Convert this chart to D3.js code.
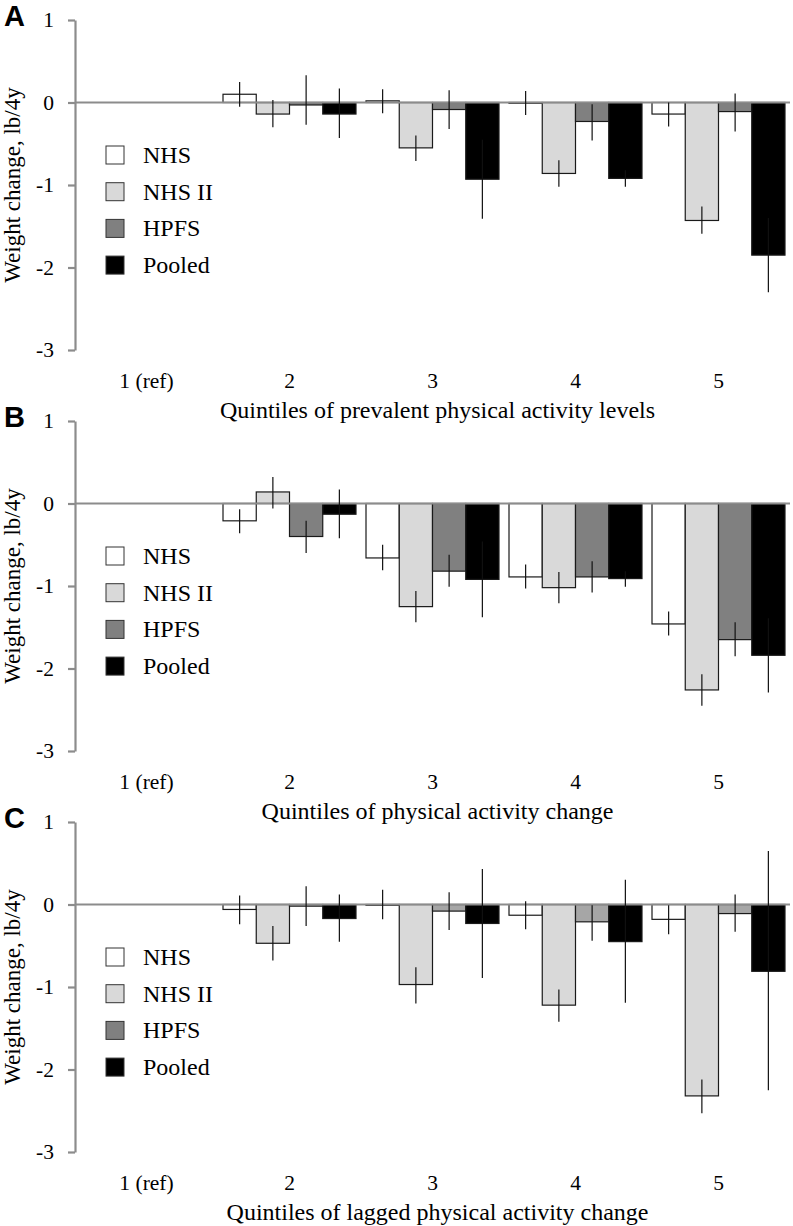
<!DOCTYPE html>
<html>
<head>
<meta charset="utf-8">
<script src="https://cdn.jsdelivr.net/npm/d3@7"></script>
<style>
  html, body { margin: 0; padding: 0; background: #fff; }
  svg { display: block; }
</style>
</head>
<body>
<svg id="chart" width="793" height="1226"></svg>
<script>
// ---------------- DATA ----------------
const categories = ["1 (ref)", "2", "3", "4", "5"];
const seriesNames = ["NHS", "NHS II", "HPFS", "Pooled"];
const yTicks = [1, 0, -1, -2, -3];
const panelLetters = ["A", "B", "C"];
const xTitles = [
  "Quintiles of prevalent physical activity levels",
  "Quintiles of physical activity change",
  "Quintiles of lagged physical activity change"
];
const yTitle = "Weight change, lb/4y";

// each entry: [estimate, lower, upper]; null = reference category
const aNHS    = [null, [0.10, -0.05, 0.25], [0.02, -0.13, 0.16], [-0.01, -0.15, 0.14], [-0.14, -0.29, 0.00]];
const aNHS2   = [null, [-0.14, -0.30, 0.03], [-0.55, -0.71, -0.40], [-0.86, -1.02, -0.70], [-1.43, -1.59, -1.26]];
const aHPFS   = [null, [-0.03, -0.27, 0.33], [-0.085, -0.32, 0.15], [-0.23, -0.46, -0.02], [-0.11, -0.35, 0.11]];
const aPooled = [null, [-0.14, -0.43, 0.17], [-0.93, -1.41, -0.45], [-0.92, -1.02, -0.82], [-1.85, -2.30, -1.40]];

const bNHS    = [null, [-0.21, -0.36, -0.07], [-0.66, -0.81, -0.50], [-0.89, -1.03, -0.74], [-1.46, -1.60, -1.31]];
const bNHS2   = [null, [0.14, -0.06, 0.32], [-1.25, -1.44, -1.06], [-1.02, -1.21, -0.83], [-2.26, -2.45, -2.07]];
const bHPFS   = [null, [-0.40, -0.60, -0.21], [-0.82, -1.01, -0.62], [-0.89, -1.08, -0.70], [-1.65, -1.85, -1.44]];
const bPooled = [null, [-0.13, -0.42, 0.17], [-0.92, -1.38, -0.46], [-0.91, -1.01, -0.82], [-1.84, -2.29, -1.39]];

const cNHS    = [null, [-0.06, -0.24, 0.11], [-0.01, -0.18, 0.18], [-0.13, -0.30, 0.04], [-0.18, -0.36, -0.01]];
const cNHS2   = [null, [-0.47, -0.68, -0.26], [-0.97, -1.20, -0.76], [-1.22, -1.42, -1.03], [-2.32, -2.53, -2.12]];
const cHPFS   = [null, [-0.02, -0.26, 0.22], [-0.08, -0.31, 0.15], [-0.21, -0.44, -0.01], [-0.11, -0.33, 0.12]];
const cPooled = [null, [-0.17, -0.45, 0.12], [-0.23, -0.89, 0.43], [-0.45, -1.19, 0.30], [-0.81, -2.25, 0.65]];

const panelData = [
  [aNHS, aNHS2, aHPFS, aPooled],
  [bNHS, bNHS2, bHPFS, bPooled],
  [cNHS, cNHS2, cHPFS, cPooled]
];

// ---------------- STYLE ----------------
const legendColors = ["#ffffff", "#d9d9d9", "#808080", "#000000"];
const panelBarColors = [
  ["#ffffff", "#d9d9d9", "#808080", "#000000"],
  ["#ffffff", "#d9d9d9", "#808080", "#000000"],
  ["#ffffff", "#d9d9d9", "#a6a6a6", "#000000"]
];
const axisGray = "#8c8c8c";
const serif = "'Liberation Serif', 'Times New Roman', serif";
const sans = "'Liberation Sans', Arial, sans-serif";

const svg = d3.select("#chart");
const panelStep = 401;
const plotLeft = 75, plotRight = 790;
const plotTop = 20, plotBottom = 350;

const x = d3.scaleBand().domain(categories).range([plotLeft, plotRight])
  .paddingInner(0.07).paddingOuter(0.035);
const xs = d3.scaleBand().domain(seriesNames).range([0, x.bandwidth()]);
const y = d3.scaleLinear().domain([-3, 1]).range([plotBottom, plotTop]);

panelData.forEach((seriesArr, p) => {
  const g = svg.append("g").attr("transform", `translate(0,${p * panelStep})`);

  // panel letter
  g.append("text").attr("x", 4).attr("y", 26)
    .attr("font-family", sans).attr("font-weight", "bold").attr("font-size", 29)
    .text(panelLetters[p]);

  // bars
  seriesArr.forEach((vals, s) => {
    const sg = g.append("g");
    const rows = vals.map((v, i) => ({ cat: categories[i], v })).filter(d => d.v !== null);
    sg.selectAll("rect").data(rows).join("rect")
      .attr("x", d => x(d.cat) + xs(seriesNames[s]))
      .attr("width", xs.bandwidth())
      .attr("y", d => y(Math.max(0, d.v[0])))
      .attr("height", d => Math.abs(y(d.v[0]) - y(0)))
      .attr("fill", panelBarColors[p][s])
      .attr("stroke", "#1a1a1a").attr("stroke-width", 1.2);
  });

  // zero line
  g.append("line")
    .attr("x1", plotLeft).attr("x2", plotRight)
    .attr("y1", y(0)).attr("y2", y(0))
    .attr("stroke", axisGray).attr("stroke-width", 2.2);

  // error bars
  seriesArr.forEach((vals, s) => {
    const rows = vals.map((v, i) => ({ cat: categories[i], v })).filter(d => d.v !== null);
    g.append("g").selectAll("line").data(rows).join("line")
      .attr("x1", d => x(d.cat) + xs(seriesNames[s]) + xs.bandwidth() / 2)
      .attr("x2", d => x(d.cat) + xs(seriesNames[s]) + xs.bandwidth() / 2)
      .attr("y1", d => y(d.v[1]))
      .attr("y2", d => y(d.v[2]))
      .attr("stroke", "#111").attr("stroke-width", 1.2);
  });

  // y axis
  const yAxis = d3.axisLeft(y).tickValues(yTicks).tickSize(7).tickSizeOuter(0)
    .tickFormat(d => String(d)).tickPadding(14);
  const ya = g.append("g").attr("transform", `translate(${plotLeft},0)`).call(yAxis);
  ya.select(".domain").attr("stroke", axisGray).attr("stroke-width", 2.2);
  ya.selectAll(".tick line").attr("stroke", axisGray).attr("stroke-width", 2.2);
  ya.selectAll(".tick text").attr("font-family", serif).attr("font-size", 21.5).attr("fill", "#000");

  // category labels
  g.append("g").selectAll("text").data(categories).join("text")
    .attr("x", d => x(d) + x.bandwidth() / 2)
    .attr("y", 388)
    .attr("text-anchor", "middle")
    .attr("font-family", serif).attr("font-size", 21.5)
    .text(d => d);

  // x title
  g.append("text")
    .attr("x", (plotLeft + plotRight) / 2 + 5).attr("y", 418)
    .attr("text-anchor", "middle")
    .attr("font-family", serif).attr("font-size", 24)
    .text(xTitles[p]);

  // y title
  g.append("text")
    .attr("transform", `translate(20,${(plotTop + plotBottom) / 2}) rotate(-90)`)
    .attr("text-anchor", "middle")
    .attr("font-family", serif).attr("font-size", 23)
    .text(yTitle);

  // legend
  const lg = g.append("g").attr("transform", "translate(106,146)");
  seriesNames.forEach((name, s) => {
    const row = lg.append("g").attr("transform", `translate(0,${s * 36.7})`);
    row.append("rect").attr("width", 18).attr("height", 18)
      .attr("fill", legendColors[s]).attr("stroke", "#333").attr("stroke-width", 1);
    row.append("text").attr("x", 37).attr("y", 17)
      .attr("font-family", serif).attr("font-size", 24)
      .text(name);
  });
});
</script>
</body>
</html>
